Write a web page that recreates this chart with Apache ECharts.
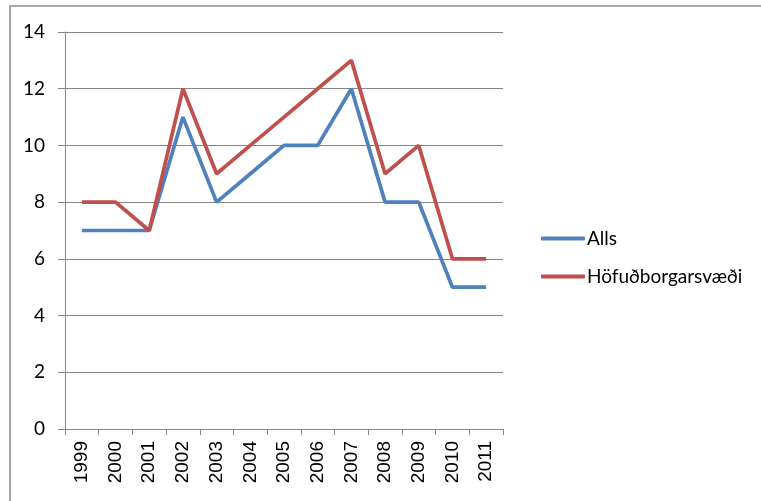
<!DOCTYPE html>
<html>
<head>
<meta charset="utf-8">
<script src="https://cdn.jsdelivr.net/npm/echarts@6/dist/echarts.min.js"></script>
<style>
  html, body { margin: 0; padding: 0; background: #fff; }
  #chart { width: 761px; height: 501px; }
</style>
</head>
<body>
<div id="chart"></div>
<script>
const years = ['1999', '2000', '2001', '2002', '2003', '2004', '2005', '2006', '2007', '2008', '2009', '2010', '2011']
const alls = [7, 7, 7, 11, 8, 9, 10, 10, 12, 8, 8, 5, 5]
const hofud = [8, 8, 7, 12, 9, 10, 11, 12, 13, 9, 10, 6, 6]

const gridColor = '#868686'

const myChart = echarts.init(document.getElementById('chart'))
const option = {
  animation: false,
  graphic: [{
    type: 'rect',
    shape: { x: 10, y: 6, width: 800, height: 600 },
    style: { fill: 'none', stroke: '#8c8c8c', lineWidth: 1.5 }
  }],
  grid: {
    left: 65,
    top: 32,
    right: 258,
    bottom: 72
  },
  legend: {
    orient: 'vertical',
    left: 536,
    top: 224,
    icon: 'roundRect',
    itemWidth: 44,
    itemHeight: 4,
    itemGap: 19,
    textStyle: {
      fontFamily: 'Lato',
      fontSize: 19,
      color: '#000',
      padding: [0, 0, 0, -3]
    },
    data: ['Alls', 'Höfuðborgarsvæði']
  },
  xAxis: {
    type: 'category',
    boundaryGap: true,
    data: years,
    axisLine: { lineStyle: { color: gridColor, width: 1 } },
    axisTick: { show: true, length: 6, lineStyle: { color: gridColor } },
    axisLabel: {
      rotate: 90,
      interval: 0,
      margin: 12,
      fontFamily: 'Liberation Sans',
      fontSize: 19,
      color: '#000'
    }
  },
  yAxis: {
    type: 'value',
    min: 0,
    max: 14,
    interval: 2,
    axisLine: { show: true, lineStyle: { color: gridColor } },
    axisTick: { show: true, length: 7, lineStyle: { color: gridColor } },
    splitLine: { lineStyle: { color: gridColor } },
    axisLabel: {
      margin: 20,
      fontFamily: 'Lato',
      fontSize: 19,
      color: '#000'
    }
  },
  series: [{
    name: 'Alls',
    type: 'line',
    data: alls,
    symbol: 'none',
    lineStyle: { color: '#4F81BD', width: 3.7 },
    itemStyle: { color: '#4F81BD' }
  }, {
    name: 'Höfuðborgarsvæði',
    type: 'line',
    data: hofud,
    symbol: 'none',
    lineStyle: { color: '#C0504D', width: 3.7 },
    itemStyle: { color: '#C0504D' }
  }]
}
myChart.setOption(option)
</script>
</body>
</html>
